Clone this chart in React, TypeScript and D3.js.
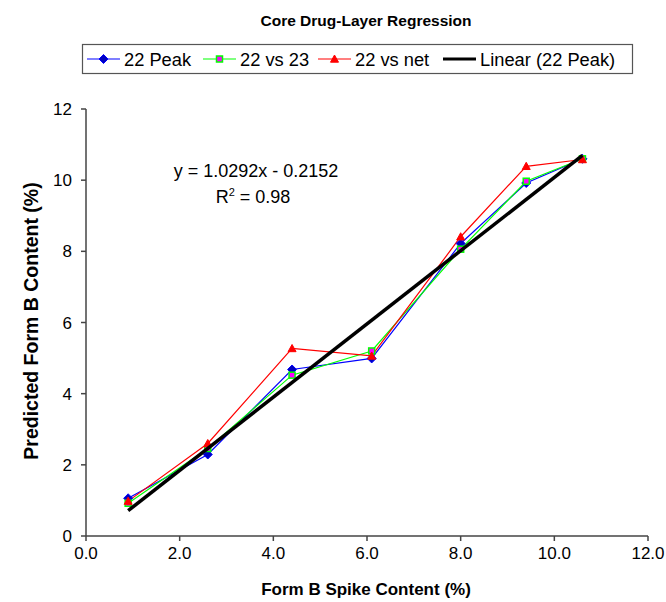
import React from "react";
import * as d3 from "d3";

const xValues = [0.9, 2.6, 4.4, 6.1, 8.0, 9.4, 10.6];
const peak22 = [1.06, 2.29, 4.68, 4.99, 8.22, 9.92, 10.6];
const vs23 = [0.92, 2.46, 4.52, 5.2, 8.06, 9.97, 10.6];
const vsNet = [0.98, 2.6, 5.27, 5.06, 8.41, 10.39, 10.58];
const xTicks = [0, 2, 4, 6, 8, 10, 12];
const yTicks = [0, 2, 4, 6, 8, 10, 12];
const slope = 1.0292;
const intercept = -0.2152;

const W = 666;
const H = 602;
const FONT = "Liberation Sans, Arial, sans-serif";

export default function App() {
  const x = d3.scaleLinear().domain([0, 12]).range([86, 648]);
  const y = d3.scaleLinear().domain([0, 12]).range([536, 109]);
  const line = d3
    .line<[number, number]>()
    .x((d) => x(d[0]))
    .y((d) => y(d[1]));

  const series = [
    { name: "22 Peak", vals: peak22, color: "#0000ff", marker: "diamond" },
    { name: "22 vs 23", vals: vs23, color: "#00ff00", marker: "square" },
    { name: "22 vs net", vals: vsNet, color: "#ff0000", marker: "triangle" },
  ];

  const marker = (type: string, cx: number, cy: number, color: string, key: string) => {
    if (type === "diamond") {
      const s = 4.5;
      return (
        <path
          key={key}
          d={`M${cx},${cy - s}L${cx + s},${cy}L${cx},${cy + s}L${cx - s},${cy}Z`}
          fill="#0000c0"
          stroke="#0000ff"
          strokeWidth={1}
        />
      );
    }
    if (type === "square") {
      const s = 3;
      return (
        <rect
          key={key}
          x={cx - s}
          y={cy - s}
          width={2 * s}
          height={2 * s}
          fill="#ff00ff"
          stroke="#00ff00"
          strokeWidth={1.5}
        />
      );
    }
    const s = 4;
    return (
      <path
        key={key}
        d={`M${cx},${cy - s}L${cx + s},${cy + s * 0.8}L${cx - s},${cy + s * 0.8}Z`}
        fill="#ff0000"
        stroke="#ff0000"
        strokeWidth={1}
      />
    );
  };

  const fitX0 = xValues[0];
  const fitX1 = xValues[xValues.length - 1];
  const fit: [number, number][] = [
    [fitX0, slope * fitX0 + intercept],
    [fitX1, slope * fitX1 + intercept],
  ];

  const legendItems = [
    { label: "22 Peak", color: "#0000ff", marker: "diamond", lx: 87 },
    { label: "22 vs 23", color: "#00ff00", marker: "square", lx: 203 },
    { label: "22 vs net", color: "#ff0000", marker: "triangle", lx: 318 },
    { label: "Linear (22 Peak)", color: "#000000", marker: "none", lx: 443 },
  ];

  return (
    <svg width={W} height={H} style={{ position: "absolute", left: 0, top: 0, background: "#fff" }} fontFamily={FONT}>
      <rect x={0} y={0} width={W} height={H} fill="#fff" />
      <text x={366} y={26} textAnchor="middle" fontWeight="bold" fontSize={15.5} fill="#000">
        Core Drug-Layer Regression
      </text>

      {/* legend */}
      <rect x={82.5} y={44.5} width={550} height={29} fill="#fff" stroke="#555" strokeWidth={1.2} />
      {legendItems.map((it) => (
        <g key={it.label}>
          <line
            x1={it.lx}
            x2={it.lx + 33}
            y1={59}
            y2={59}
            stroke={it.color}
            strokeWidth={it.marker === "none" ? 3 : 1.2}
          />
          {it.marker !== "none" && marker(it.marker, it.lx + 16.5, 59, it.color, "m")}
          <text x={it.lx + 37} y={65.5} fontSize={18.3} fill="#000">
            {it.label}
          </text>
        </g>
      ))}

      {/* axes */}
      <line x1={x(0)} x2={x(12)} y1={y(0)} y2={y(0)} stroke="#444" strokeWidth={1.5} />
      <line x1={x(0)} x2={x(0)} y1={y(0)} y2={y(12)} stroke="#444" strokeWidth={1.5} />
      {xTicks.map((t) => (
        <g key={"xt" + t}>
          <line x1={x(t)} x2={x(t)} y1={y(0)} y2={y(0) + 5} stroke="#444" strokeWidth={1.5} />
          <text x={x(t)} y={y(0) + 23} textAnchor="middle" fontSize={17} fill="#000">
            {t.toFixed(1)}
          </text>
        </g>
      ))}
      {yTicks.map((t) => (
        <g key={"yt" + t}>
          <line x1={x(0) - 5} x2={x(0)} y1={y(t)} y2={y(t)} stroke="#444" strokeWidth={1.5} />
          <text x={x(0) - 14} y={y(t) + 6} textAnchor="end" fontSize={17} fill="#000">
            {t}
          </text>
        </g>
      ))}

      <text x={366} y={595} textAnchor="middle" fontWeight="bold" fontSize={17} fill="#000">
        Form B Spike Content (%)
      </text>
      <text
        transform={`translate(38,321) rotate(-90)`}
        textAnchor="middle"
        fontWeight="bold"
        fontSize={19.5}
        fill="#000"
      >
        Predicted Form B Content (%)
      </text>

      {/* series */}
      {series.map((s) => (
        <path
          key={s.name}
          d={line(xValues.map((v, i) => [v, s.vals[i]] as [number, number])) || ""}
          fill="none"
          stroke={s.color}
          strokeWidth={1.2}
        />
      ))}
      {series.map((s) => (
        <g key={s.name + "m"}>
          {xValues.map((v, i) => marker(s.marker, x(v), y(s.vals[i]), s.color, s.name + i))}
        </g>
      ))}
      <path d={line(fit) || ""} fill="none" stroke="#000" strokeWidth={3.5} />

      <text x={256} y={177} textAnchor="middle" fontSize={18} fill="#000">
        y = 1.0292x - 0.2152
      </text>
      <text x={253} y={203} textAnchor="middle" fontSize={18} fill="#000">
        R<tspan dy={-7} fontSize={11}>2</tspan>
        <tspan dy={7}> = 0.98</tspan>
      </text>
    </svg>
  );
}
